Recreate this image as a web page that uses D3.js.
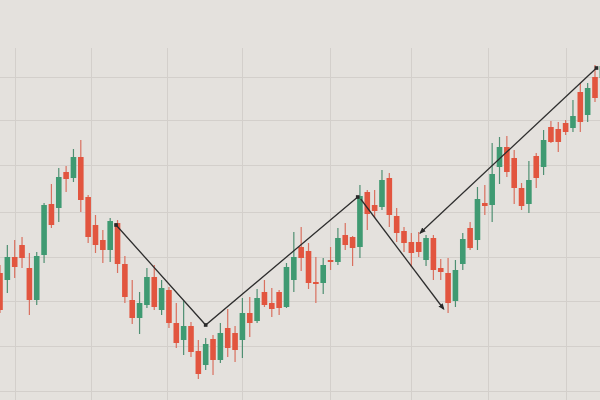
<!DOCTYPE html>
<html>
<head>
<meta charset="utf-8">
<script src="https://cdn.jsdelivr.net/npm/d3@7/dist/d3.min.js"></script>
<style>
html,body{margin:0;padding:0;background:#e4e1dd;}
svg{display:block;}
</style>
</head>
<body>
<svg id="chart" width="600" height="400"></svg>
<script>
// Candle data (arbitrary price units)
const openP  = [127,120,143,155,132,100,145,196,192,228,222,243,203,175,160,150,177,136,100,82,95,123,90,110,77,60,74,49,35,61,40,72,67,60,87,79,108,97,108,93,120,153,149,118,117,140,138,165,163,153,208,195,193,222,184,169,158,158,140,162,132,127,99,136,172,160,197,195,233,253,242,212,196,244,233,273,271,277,272,308,285,323,322];
const highP  = [135,155,160,163,147,148,197,216,232,234,251,260,205,185,170,182,180,144,120,108,132,135,120,113,97,99,78,60,62,65,77,91,74,102,103,111,120,112,110,137,168,173,157,143,142,153,172,177,164,215,210,210,230,227,192,173,167,168,165,165,141,142,140,167,178,213,215,257,263,264,250,217,239,247,270,279,278,280,300,317,317,335,340];
const lowP   = [87,107,122,132,85,95,137,172,178,208,218,188,157,147,137,138,127,97,76,66,92,90,85,72,52,45,43,21,30,25,37,43,38,42,63,77,93,83,85,92,108,129,111,97,106,130,135,150,134,142,170,182,190,173,158,148,133,143,134,120,120,87,93,130,150,150,185,178,216,223,196,190,187,212,225,257,248,265,268,268,278,298,318];
const closeP = [90,143,133,142,100,144,195,175,223,221,243,200,163,155,150,179,136,103,82,97,123,93,112,77,57,74,48,26,56,40,67,52,50,87,77,102,95,91,92,133,143,142,117,116,135,138,162,155,152,204,186,189,220,185,167,157,147,148,162,130,128,97,130,161,152,201,194,226,253,228,212,194,220,222,260,258,258,268,284,278,312,302,334];

// Trend-line annotations: [candle index, price]
const trendA = [[15.8,175],[28.0,75],[48.7,203]];
const trendB = [[49.1,201],[60.4,91]];
const trendC = [[57.2,167],[81.2,332]];

// Grid positions
const gridX = [2, 12.4, 22.7, 32.9, 44.9, 56.0, 66.4, 77.0];
const gridY = [323, 280, 235, 188, 143, 99, 54, 9];
const gridTop = 352;

const W = 600, H = 400;
const svg = d3.select("#chart");
const x = d3.scaleLinear().domain([0, 81]).range([0, 595]);
const y = d3.scaleLinear().domain([0, 400]).range([400, 0]);

svg.append("rect").attr("width", W).attr("height", H).attr("fill", "#e4e1dd");

const g = svg.append("g").attr("class", "grid");
g.selectAll("line.h").data(gridY).join("line")
  .attr("class","h")
  .attr("x1", 0).attr("x2", W)
  .attr("y1", d => Math.round(y(d)) + 0.5).attr("y2", d => Math.round(y(d)) + 0.5)
  .attr("stroke", "#d3cfcb").attr("stroke-width", 1);
g.selectAll("line.v").data(gridX).join("line")
  .attr("class","v")
  .attr("x1", d => Math.round(x(d)) + 0.5).attr("x2", d => Math.round(x(d)) + 0.5)
  .attr("y1", y(gridTop)).attr("y2", H)
  .attr("stroke", "#d3cfcb").attr("stroke-width", 1);

const candles = openP.map((o, i) => ({i, o, h: highP[i], l: lowP[i], c: closeP[i]}));
const green = "#3f9a72", red = "#e2553f";
const bw = 5.6;

const cg = svg.append("g").attr("class", "candles");
const cs = cg.selectAll("g").data(candles).join("g");
cs.append("line")
  .attr("x1", d => x(d.i)).attr("x2", d => x(d.i))
  .attr("y1", d => y(d.h)).attr("y2", d => y(d.l))
  .attr("stroke", d => d.c >= d.o ? "#4f8f72" : "#d9705f")
  .attr("stroke-width", 1.2);
cs.append("rect")
  .attr("x", d => x(d.i) - bw / 2)
  .attr("width", bw)
  .attr("y", d => y(Math.max(d.o, d.c)))
  .attr("height", d => Math.max(1.5, Math.abs(y(d.o) - y(d.c))))
  .attr("fill", d => d.c >= d.o ? green : red);

// markers
const defs = svg.append("defs");
defs.append("marker").attr("id", "arr")
  .attr("viewBox", "0 0 10 10").attr("refX", 8).attr("refY", 5)
  .attr("markerWidth", 5).attr("markerHeight", 5).attr("orient", "auto-start-reverse")
  .append("path").attr("d", "M0,1 L10,5 L0,9 Z").attr("fill", "#2a2a2a");
defs.append("marker").attr("id", "dot")
  .attr("viewBox", "0 0 10 10").attr("refX", 5).attr("refY", 5)
  .attr("markerWidth", 3.5).attr("markerHeight", 3.5)
  .append("rect").attr("x", 1).attr("y", 1).attr("width", 8).attr("height", 8).attr("fill", "#2a2a2a");

const line = d3.line().x(d => x(d[0])).y(d => y(d[1]));
const lg = svg.append("g").attr("class", "trend").attr("fill", "none")
  .attr("stroke", "#2e2e2e").attr("stroke-width", 1.3);
lg.append("path").attr("d", line(trendA))
  .attr("marker-start", "url(#dot)").attr("marker-mid", "url(#dot)").attr("marker-end", "url(#dot)");
lg.append("path").attr("d", line(trendB)).attr("marker-end", "url(#arr)");
lg.append("path").attr("d", line(trendC)).attr("marker-start", "url(#arr)").attr("marker-end", "url(#dot)");
</script>
</body>
</html>
